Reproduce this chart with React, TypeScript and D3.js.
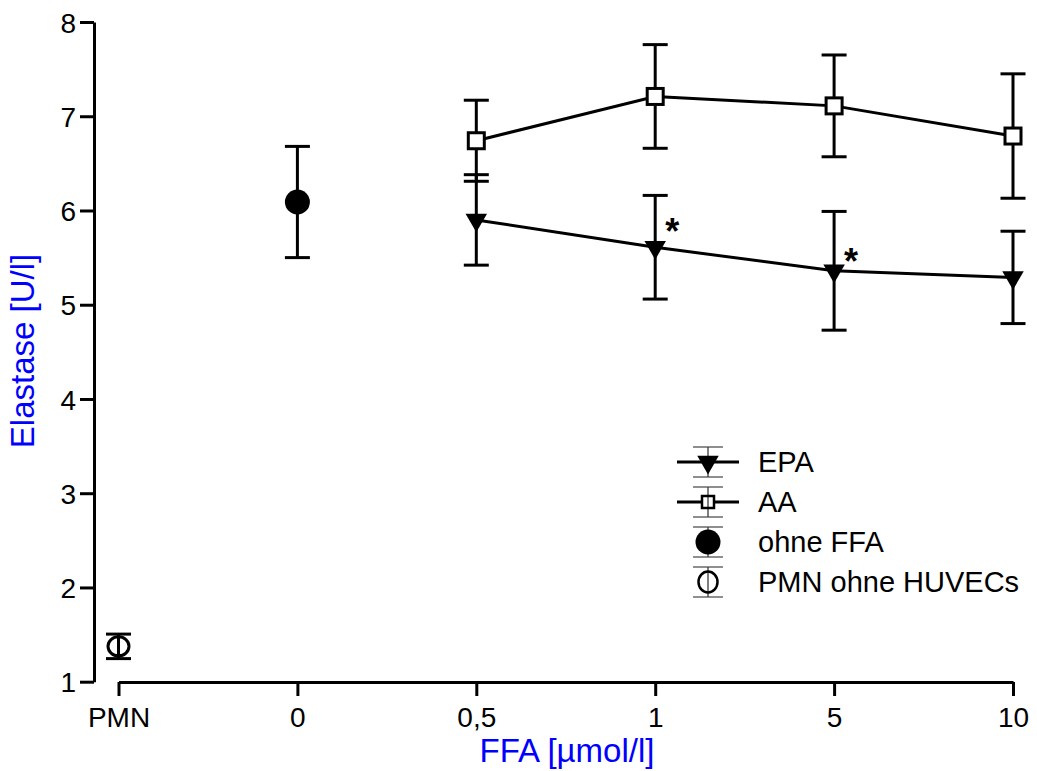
import { useRef, useEffect } from "react";
import * as d3 from "d3";

const categories = ["PMN", "0", "0,5", "1", "5", "10"];
const yTicks = [1, 2, 3, 4, 5, 6, 7, 8];

const epaCats = ["0,5", "1", "5", "10"];
const epaMean = [5.9, 5.61, 5.36, 5.29];
const epaErr = [0.48, 0.55, 0.63, 0.49];

const aaCats = ["0,5", "1", "5", "10"];
const aaMean = [6.74, 7.21, 7.11, 6.79];
const aaErr = [0.43, 0.55, 0.54, 0.66];

const ohneCats = ["0"];
const ohneMean = [6.09];
const ohneErr = [0.59];

const pmnCats = ["PMN"];
const pmnMean = [1.375];
const pmnErr = [0.13];

const starCats = ["1", "5"];
const starVals = [5.61, 5.36];

const legendLabels = ["EPA", "AA", "ohne FFA", "PMN ohne HUVECs"];

const App = () => {
  const ref = useRef<HTMLDivElement>(null);

  useEffect(() => {
    const width = 1037;
    const height = 771;
    const font = "Liberation Sans, Arial, sans-serif";

    const svg = d3
      .select(ref.current)
      .html("")
      .append("svg")
      .attr("width", width)
      .attr("height", height)
      .style("position", "absolute")
      .style("left", 0)
      .style("top", 0);

    const x = d3.scalePoint().domain(categories).range([118.5, 1013]);
    const y = d3.scaleLinear().domain([1, 8]).range([681.7, 22]);

    // y axis
    const ya = svg
      .append("g")
      .attr("transform", "translate(94,0)")
      .call(
        d3
          .axisLeft(y)
          .tickValues(yTicks)
          .tickFormat(d3.format("d"))
          .tickSize(14)
          .tickSizeOuter(0)
          .tickPadding(4)
      );
    ya.select(".domain").attr("stroke-width", 3);
    ya.selectAll(".tick line").attr("stroke-width", 3);
    ya.selectAll(".tick text")
      .attr("font-size", 28)
      .attr("font-family", font)
      .attr("dy", "0.36em")
      .attr("fill", "#000");

    // x axis
    const xa = svg
      .append("g")
      .attr("transform", "translate(0,682)")
      .call(d3.axisBottom(x).tickSize(14).tickSizeOuter(0).tickPadding(11));
    xa.select(".domain").attr("stroke-width", 3);
    xa.selectAll(".tick line").attr("stroke-width", 3);
    xa.selectAll(".tick text")
      .attr("font-size", 28)
      .attr("font-family", font)
      .attr("dy", "0.71em")
      .attr("fill", "#000");

    // titles
    svg
      .append("text")
      .attr("x", 567)
      .attr("y", 762)
      .attr("text-anchor", "middle")
      .attr("font-size", 33)
      .attr("font-family", font)
      .attr("fill", "#0000ff")
      .text("FFA [µmol/l]");
    svg
      .append("text")
      .attr("transform", "translate(34,351) rotate(-90)")
      .attr("text-anchor", "middle")
      .attr("font-size", 33)
      .attr("font-family", font)
      .attr("fill", "#0000ff")
      .text("Elastase [U/l]");

    const errorBars = (cats: string[], mean: number[], err: number[]) => {
      const g = svg.append("g").attr("stroke", "#000").attr("stroke-width", 3);
      cats.forEach((c, i) => {
        const cx = x(c)!;
        const top = y(mean[i] + err[i]);
        const bot = y(mean[i] - err[i]);
        g.append("line").attr("x1", cx).attr("x2", cx).attr("y1", top).attr("y2", bot);
        g.append("line").attr("x1", cx - 12.5).attr("x2", cx + 12.5).attr("y1", top).attr("y2", top);
        g.append("line").attr("x1", cx - 12.5).attr("x2", cx + 12.5).attr("y1", bot).attr("y2", bot);
      });
    };

    const line = d3
      .line<number>()
      .x((_, i) => x(epaCats[i])!)
      .y((d) => y(d));

    errorBars(aaCats, aaMean, aaErr);
    errorBars(epaCats, epaMean, epaErr);
    errorBars(ohneCats, ohneMean, ohneErr);
    errorBars(pmnCats, pmnMean, pmnErr);

    svg.append("path").attr("d", line(aaMean)).attr("fill", "none").attr("stroke", "#000").attr("stroke-width", 3);
    svg.append("path").attr("d", line(epaMean)).attr("fill", "none").attr("stroke", "#000").attr("stroke-width", 3);

    const tri = d3.symbol().type(d3.symbolTriangle).size(200);

    // EPA triangles (pointing down)
    epaCats.forEach((c, i) => {
      svg
        .append("path")
        .attr("d", tri())
        .attr("transform", `translate(${x(c)},${y(epaMean[i])}) rotate(180)`)
        .attr("fill", "#000");
    });

    // AA squares
    aaCats.forEach((c, i) => {
      svg
        .append("rect")
        .attr("x", x(c)! - 8)
        .attr("y", y(aaMean[i]) - 8)
        .attr("width", 16)
        .attr("height", 16)
        .attr("fill", "#fff")
        .attr("stroke", "#000")
        .attr("stroke-width", 3);
    });

    ohneCats.forEach((c, i) => {
      svg.append("circle").attr("cx", x(c)!).attr("cy", y(ohneMean[i])).attr("r", 12.5).attr("fill", "#000");
    });

    pmnCats.forEach((c, i) => {
      svg
        .append("ellipse")
        .attr("cx", x(c)!)
        .attr("cy", y(pmnMean[i]))
        .attr("rx", 10.5)
        .attr("ry", 9.5)
        .attr("fill", "none")
        .attr("stroke", "#000")
        .attr("stroke-width", 3);
    });

    // significance marks
    starCats.forEach((c, i) => {
      svg
        .append("text")
        .attr("x", x(c)! + 17)
        .attr("y", y(starVals[i]) + (i === 0 ? -3 : 3))
        .attr("text-anchor", "middle")
        .attr("font-size", 36)
        .attr("font-weight", "bold")
        .attr("font-family", font)
        .text("*");
    });

    // legend
    const lg = svg.append("g").attr("transform", "translate(708,462)");
    legendLabels.forEach((label, i) => {
      const g = lg.append("g").attr("transform", `translate(0,${i * 40})`);
      g.append("line").attr("x1", 0).attr("x2", 0).attr("y1", -15).attr("y2", 15).attr("stroke", "#000").attr("stroke-width", 1);
      g.append("line").attr("x1", -15).attr("x2", 15).attr("y1", -15).attr("y2", -15).attr("stroke", "#444").attr("stroke-width", 1.2);
      g.append("line").attr("x1", -15).attr("x2", 15).attr("y1", 15).attr("y2", 15).attr("stroke", "#444").attr("stroke-width", 1.2);
      if (i < 2) {
        g.append("line").attr("x1", -31).attr("x2", 31).attr("stroke", "#000").attr("stroke-width", 3);
      }
      if (i === 0) {
        g.append("path").attr("d", tri()).attr("transform", "rotate(180)").attr("fill", "#000");
      } else if (i === 1) {
        g.append("rect").attr("x", -6).attr("y", -6).attr("width", 12).attr("height", 12).attr("fill", "#fff").attr("stroke", "#000").attr("stroke-width", 2.5);
        g.append("line").attr("x1", 0).attr("x2", 0).attr("y1", -6).attr("y2", 6).attr("stroke", "#000").attr("stroke-width", 1);
      } else if (i === 2) {
        g.append("circle").attr("r", 12.5).attr("fill", "#000");
      } else {
        g.append("ellipse").attr("rx", 9.5).attr("ry", 10.5).attr("fill", "none").attr("stroke", "#000").attr("stroke-width", 2.5);
      }
      g.append("text")
        .attr("x", 50)
        .attr("y", 0)
        .attr("dy", "0.36em")
        .attr("font-size", 29)
        .attr("font-family", font)
        .text(label);
    });
  }, []);

  return <div ref={ref} />;
};

export default App;
